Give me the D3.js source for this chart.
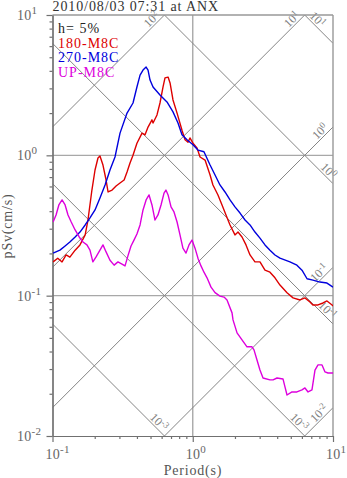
<!DOCTYPE html>
<html><head><meta charset="utf-8">
<script src="https://cdn.jsdelivr.net/npm/d3@7"></script>
<style>
html,body{margin:0;padding:0;background:#fff;}
svg{display:block;font-family:"Liberation Serif","Times New Roman",serif;}
</style>
</head><body><svg id="c" width="347" height="478"></svg>
<script>
// ---------- data ----------
const titleText = "2010/08/03 07:31 at ANX";
const legendTexts = ["h= 5%", "180-M8C", "270-M8C", "UP-M8C"];
const legendColors = ["#222222", "#dd0000", "#0000dd", "#dd00dd"];
const xTickExps = [-1, 0, 1];
const yTickExps = [-2, -1, 0, 1];
const gridPeriods = [1];
const gridValues = [0.1, 1];
// constant pseudo-acceleration lines (ascending) and constant displacement lines (descending)
const accLevels = [100, 10, 1, 0.1, 0.01];
const accLabels = ["2", "1", "0", "-1", "-2"];
const dispLevels = [10, 1, 0.1, 0.01, 0.001];
const dispLabels = ["1", "0", "-1", "-3", "-3"];

// [period (s), pSv (cm/s)]
const series180 = [[0.101,0.174],[0.109,0.185],[0.117,0.174],[0.125,0.195],[0.133,0.188],[0.145,0.211],[0.157,0.230],[0.171,0.271],[0.179,0.346],[0.191,0.566],[0.201,0.786],[0.211,0.957],[0.218,0.989],[0.229,0.853],[0.241,0.667],[0.249,0.548],[0.266,0.566],[0.284,0.604],[0.303,0.635],[0.324,0.667],[0.340,0.761],[0.357,0.882],[0.375,1.00],[0.400,1.22],[0.435,1.44],[0.457,1.40],[0.480,1.59],[0.512,1.79],[0.521,1.70],[0.556,1.94],[0.584,2.36],[0.614,3.07],[0.634,3.56],[0.667,3.61],[0.689,3.28],[0.723,2.48],[0.773,2.00],[0.838,1.51],[0.881,1.29],[0.925,1.24],[0.955,1.33],[1.004,1.22],[1.072,1.13],[1.127,0.973],[1.224,0.925],[1.329,0.724],[1.393,0.615],[1.513,0.522],[1.617,0.443],[1.726,0.376],[1.844,0.319],[2.000,0.271],[2.102,0.284],[2.245,0.262],[2.397,0.230],[2.560,0.195],[2.777,0.174],[3.015,0.174],[3.273,0.152],[3.553,0.147],[3.857,0.134],[4.187,0.119],[4.70,0.105],[5.19,0.0964],[5.82,0.0932],[6.31,0.0964],[6.85,0.0902],[7.19,0.0859],[7.82,0.0859],[8.49,0.0887],[9.06,0.0917],[9.85,0.0859],[10,0.0845]];
const series270 = [[0.101,0.201],[0.113,0.211],[0.123,0.226],[0.133,0.241],[0.145,0.262],[0.157,0.284],[0.171,0.319],[0.185,0.358],[0.201,0.408],[0.218,0.497],[0.237,0.615],[0.257,0.786],[0.279,0.973],[0.303,1.44],[0.340,2.00],[0.375,2.36],[0.400,3.07],[0.421,3.73],[0.442,4.05],[0.465,4.26],[0.480,4.05],[0.496,3.44],[0.521,3.07],[0.584,2.69],[0.655,2.40],[0.723,2.04],[0.785,1.70],[0.838,1.40],[0.910,1.29],[1.004,1.19],[1.089,1.09],[1.202,1.06],[1.329,0.853],[1.442,0.724],[1.563,0.615],[1.698,0.548],[1.844,0.481],[2.000,0.429],[2.173,0.388],[2.359,0.346],[2.560,0.319],[2.777,0.284],[3.015,0.257],[3.273,0.230],[3.553,0.211],[3.857,0.195],[4.187,0.185],[4.93,0.174],[5.53,0.165],[6.01,0.152],[6.53,0.132],[7.19,0.129],[8.08,0.125],[9.06,0.123],[10,0.115]];
const seriesUP = [[0.101,0.335],[0.106,0.376],[0.111,0.443],[0.117,0.481],[0.123,0.443],[0.129,0.376],[0.136,0.335],[0.145,0.294],[0.155,0.262],[0.165,0.241],[0.176,0.230],[0.185,0.211],[0.194,0.174],[0.204,0.188],[0.218,0.211],[0.229,0.230],[0.241,0.205],[0.257,0.179],[0.275,0.165],[0.293,0.174],[0.313,0.168],[0.329,0.163],[0.345,0.192],[0.363,0.226],[0.381,0.249],[0.400,0.275],[0.421,0.319],[0.442,0.408],[0.465,0.481],[0.488,0.522],[0.512,0.443],[0.538,0.346],[0.565,0.376],[0.594,0.443],[0.624,0.538],[0.644,0.566],[0.667,0.522],[0.700,0.429],[0.735,0.395],[0.773,0.335],[0.811,0.271],[0.851,0.218],[0.895,0.201],[0.940,0.230],[0.988,0.249],[1.038,0.218],[1.089,0.185],[1.145,0.163],[1.202,0.147],[1.264,0.134],[1.350,0.115],[1.442,0.105],[1.563,0.0993],[1.671,0.0977],[1.755,0.0932],[1.906,0.0754],[1.937,0.0672],[2.069,0.0543],[2.245,0.0484],[2.437,0.0432],[2.645,0.0432],[2.733,0.0411],[2.871,0.0348],[3.015,0.0295],[3.170,0.0259],[3.553,0.0251],[3.735,0.0251],[3.989,0.0259],[4.40,0.0255],[4.55,0.0223],[4.70,0.0196],[5.10,0.0206],[5.53,0.0206],[6.01,0.0213],[6.31,0.0220],[6.64,0.0206],[7.08,0.0213],[7.44,0.0295],[7.82,0.0321],[8.35,0.0321],[8.77,0.0286],[9.21,0.0281],[10,0.0281]];
const seriesList = [series180, series270, seriesUP];
const seriesColors = ["#dd0000", "#0000dd", "#dd00dd"];

// ---------- layout ----------
const L = 52.5, R = 333, T = 15, B = 436;
const svg = d3.select("#c");
const x = d3.scaleLog().domain([0.1, 10]).range([L, R]);
const y = d3.scaleLog().domain([0.01, 10]).range([B, T]);
const TWO_PI = 2 * Math.PI;

svg.append("defs").append("clipPath").attr("id", "plot")
  .append("rect").attr("x", L).attr("y", T).attr("width", R - L).attr("height", B - T);

// grid lines
const grid = svg.append("g").attr("stroke", "#a8a8a8").attr("stroke-width", 1.4);
gridPeriods.forEach(p => grid.append("line").attr("x1", x(p)).attr("x2", x(p)).attr("y1", T).attr("y2", B));
gridValues.forEach(v => grid.append("line").attr("x1", L).attr("x2", R).attr("y1", y(v)).attr("y2", y(v)));

// diagonal lines
const diag = svg.append("g").attr("clip-path", "url(#plot)").attr("stroke", "#858585").attr("stroke-width", 1).attr("fill", "none");
const line = d3.line().x(d => x(d[0])).y(d => y(d[1]));
accLevels.forEach(a => diag.append("path").attr("d", line([[0.1, a * 0.1 / TWO_PI], [10, a * 10 / TWO_PI]])));
dispLevels.forEach(s => diag.append("path").attr("d", line([[0.1, TWO_PI * s / 0.1], [10, TWO_PI * s / 10]])));

// diagonal labels
const s2 = Math.SQRT1_2;
const dl = svg.append("g").attr("fill", "#808080").attr("font-size", 12);
function diagLabel(px, py, angle, anchor, exp) {
  const t = dl.append("text").attr("transform", `translate(${px},${py}) rotate(${angle})`).attr("text-anchor", anchor);
  t.append("tspan").text("10");
  t.append("tspan").attr("dy", -4).attr("font-size", 9).text(exp);
}
const margin = 4, off = 2;
accLevels.forEach((a, i) => {
  // ascending: PSV = a*T/2pi ; exits at top or right
  const tTop = 10 * TWO_PI / a;
  let ex, ey;
  if (tTop <= 10) { ex = x(tTop); ey = T; } else { ex = R; ey = y(a * 10 / TWO_PI); }
  const px = ex - s2 * margin - s2 * off, py = ey + s2 * margin - s2 * off;
  diagLabel(px, py, -45, "end", accLabels[i]);
});
dispLevels.forEach((s, i) => {
  // descending: PSV = 2pi*s/T
  const tTop = TWO_PI * s / 10;
  const tBot = TWO_PI * s / 0.01;
  if (tTop > 1) {
    const sx = x(tTop), sy = T;
    diagLabel(sx + s2 * margin + s2 * off, sy + s2 * margin - s2 * off, 45, "start", dispLabels[i]);
    return;
  }
  let ex, ey;
  if (tBot <= 10) { ex = x(tBot); ey = B; } else { ex = R; ey = y(TWO_PI * s / 10); }
  const px = ex - s2 * margin + s2 * off, py = ey - s2 * margin - s2 * off;
  diagLabel(px, py, 45, "end", dispLabels[i]);
});

// frame
svg.append("line").attr("x1", L).attr("x2", R).attr("y1", T).attr("y2", T).attr("stroke", "#999").attr("stroke-width", 1.4);
svg.append("line").attr("x1", R).attr("x2", R).attr("y1", T).attr("y2", B).attr("stroke", "#999").attr("stroke-width", 1.4);

// axes (ticks)
const minorVals = (lo, hi) => { const out = []; for (let e = lo; e < hi; e++) for (let k = 2; k <= 9; k++) out.push(k * Math.pow(10, e)); return out; };
const axColor = "#707070";
function styleAxis(g) { g.selectAll("path,line").attr("stroke", axColor).attr("stroke-width", 1.2); g.selectAll("text").remove(); }
svg.append("g").attr("transform", `translate(${L},0)`)
  .call(d3.axisLeft(y).tickValues(minorVals(-2, 1)).tickSize(3).tickSizeOuter(0).tickFormat("")).call(styleAxis);
svg.append("g").attr("transform", `translate(${L},0)`)
  .call(d3.axisLeft(y).tickValues(yTickExps.map(e => Math.pow(10, e))).tickSize(6).tickSizeOuter(0).tickFormat("")).call(styleAxis);
svg.append("g").attr("transform", `translate(0,${B})`)
  .call(d3.axisBottom(x).tickValues(minorVals(-1, 1)).tickSize(3).tickSizeOuter(0).tickFormat("")).call(styleAxis);
svg.append("g").attr("transform", `translate(0,${B})`)
  .call(d3.axisBottom(x).tickValues(xTickExps.map(e => Math.pow(10, e))).tickSize(6).tickSizeOuter(0).tickFormat("")).call(styleAxis);

// tick labels
const tl = svg.append("g").attr("fill", "#666").attr("font-size", 14).attr("letter-spacing", 0.3);
yTickExps.forEach(e => {
  const t = tl.append("text").attr("x", 17).attr("y", y(Math.pow(10, e)) + 5);
  t.append("tspan").text("10");
  t.append("tspan").attr("dy", -6).attr("font-size", 11).text(e);
});
xTickExps.forEach(e => {
  const t = tl.append("text").attr("x", x(Math.pow(10, e)) - 7).attr("y", 459);
  t.append("tspan").text("10");
  t.append("tspan").attr("dy", -6).attr("font-size", 11).text(e);
});

// series
const curves = svg.append("g").attr("clip-path", "url(#plot)").attr("fill", "none");
seriesList.forEach((s, i) => curves.append("path").attr("d", line(s)).attr("stroke", seriesColors[i]).attr("stroke-width", 1.4).attr("stroke-linejoin", "round"));

// title & legend
svg.append("text").attr("x", L).attr("y", 11).attr("fill", "#333").attr("font-size", 14).attr("letter-spacing", 0.9).text(titleText);
legendTexts.forEach((t, i) => svg.append("text").attr("x", 58).attr("y", 33 + i * 14.5).attr("fill", legendColors[i]).attr("font-size", 14).attr("letter-spacing", 1).text(t));

// axis titles
svg.append("text").attr("x", 193).attr("y", 475).attr("text-anchor", "middle").attr("fill", "#555").attr("font-size", 14).attr("letter-spacing", 0.8).text("Period(s)");
svg.append("text").attr("transform", "translate(12,226) rotate(-90)").attr("text-anchor", "middle").attr("fill", "#555").attr("font-size", 14).attr("letter-spacing", 0.8).text("pSv(cm/s)");
</script></body></html>
